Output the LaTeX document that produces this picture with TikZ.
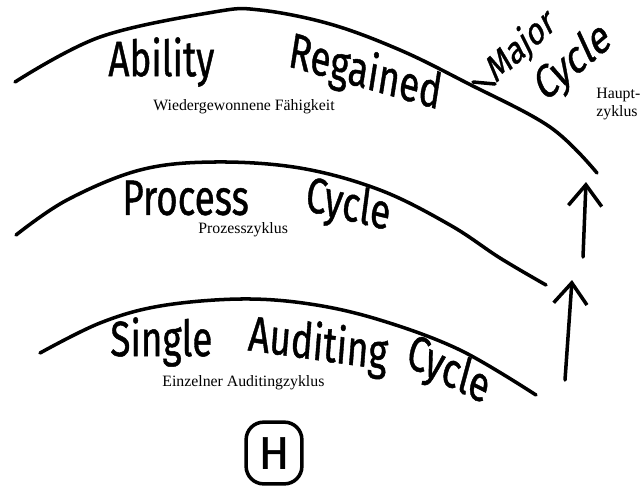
\documentclass[tikz,border=0pt]{standalone}
\usepackage{fontspec}
\setmainfont{Liberation Serif}
\newfontfamily\handfont[FakeBold=1]{Fira Sans}
\usetikzlibrary{arrows.meta}

\tikzset{
	hand/.style={font=\handfont\fontsize{21}{24}\selectfont, inner sep=0pt, yscale=1.35},
	smallhand/.style={hand, font=\handfont\fontsize{16.5}{20}\selectfont},
	german/.style={font=\fontsize{9}{10.5}\selectfont, inner sep=0pt, align=left},
	cycle line/.style={line width=2pt, line cap=round},
	up arrow/.style={line width=2pt, line cap=round, -{Straight Barb[length=12pt, width=19pt, line width=2pt]}}
}

\begin{document}
\begin{tikzpicture}[x=0.02cm, y=-0.02cm]
				\useasboundingbox (0,0) rectangle (642,488);
				% top arc
				\draw[cycle line] plot[smooth, tension=0.6] coordinates
					{(15,82) (100,37) (214,12) (260,10) (330,24) (400,50) (467,83) (550,127) (597,173)};
				\coordinate (dashend) at (473,82);
				\node[hand, anchor=west] (ability) at (108,62) {Ability};
				\node[hand, rotate=-12] (regained) at (365,74) {Regained};
				\node[german, anchor=west] (wieder) at (153,107) {Wiedergewonnene Fähigkeit};
				% major cycle
				\node[smallhand, rotate=34, anchor=base west] (major) at (495,84) {Major};
				\node[smallhand, font=\handfont\fontsize{20}{23}\selectfont, rotate=32, anchor=base west] (mcycle) at (544,103) {Cycle};
				\draw[cycle line] (dashend) -- (major.base west);
				\node[german, anchor=west] (haupt) at (596,104) {Haupt-\\zyklus};
				% middle arc
				\draw[cycle line] plot[smooth, tension=0.6] coordinates
					{(16,235) (67,200) (140,170) (214,162) (300,168) (380,190) (450,225) (500,258) (546,285)};
				\node[hand, anchor=west] (process) at (122,198) {Process};
				\node[hand, rotate=-10] (pcycle) at (348,207) {Cycle};
				\node[german, anchor=west] (prozess) at (198,230) {Prozesszyklus};
				% bottom arc
				\draw[cycle line] plot[smooth, tension=0.6] coordinates
					{(40,353) (100,323) (160,306) (240,299) (310,304) (380,320) (460,350) (536,395)};
				\node[hand, anchor=west] (single) at (110,342) {Single};
				\node[hand, rotate=-6] (auditing) at (318,346) {Auditing};
				\node[hand, rotate=-20] (scycle) at (448,372) {Cycle};
				\node[german, anchor=west] (einzeln) at (162,383) {Einzelner Auditingzyklus};
				% arrows
				\coordinate (upA) at (583,257);
				\coordinate (upB) at (586,182);
				\coordinate (loA) at (565,380);
				\coordinate (loB) at (572,280);
				\draw[up arrow] (upA) -- (upB);
				\draw[up arrow] (loA) -- (loB);
				% page mark
				\node[draw, line width=2pt, rounded corners=10pt, minimum width=56pt*0.567, minimum height=62pt*0.567,
					inner sep=0pt, font=\handfont\fontsize{26}{28}\selectfont] (mark) at (274,453) {H};
			\end{tikzpicture}
\end{document}
